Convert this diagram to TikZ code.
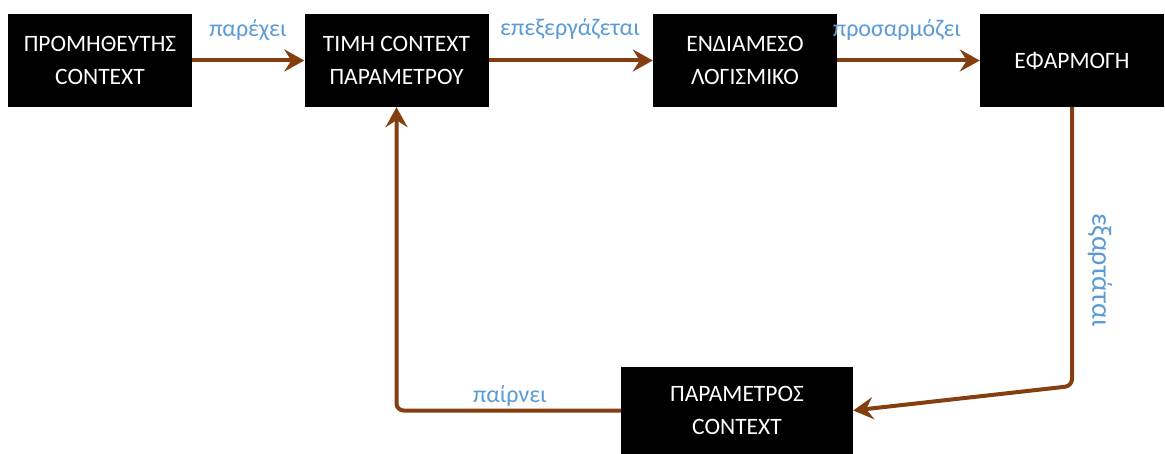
\documentclass[tikz,border=0pt]{standalone}
\usepackage{fontspec}
\setmainfont{Carlito}
\usetikzlibrary{arrows.meta}
\definecolor{arrowbrown}{RGB}{132,62,16}
\definecolor{lblblue}{RGB}{91,155,213}
\tikzset{
  box/.style={draw=none, fill=black, text=white, minimum width=184pt, minimum height=93pt,
    align=center, inner sep=0pt, font=\fontsize{23.5}{33}\selectfont},
  conn/.style={draw=arrowbrown, line width=4pt, rounded corners=7pt,
    -{Stealth[length=20pt,width=22pt,inset=7pt]}},
  lbl/.style={text=lblblue, inner sep=0pt, font=\fontsize{24}{28}\selectfont}
}
\begin{document}
\begin{tikzpicture}[x=1pt,y=-1pt]
\useasboundingbox (0,0) rectangle (1165,454);
\node[box] (b1) at (100,60.5) {ΠΡΟΜΗΘΕΥΤΗΣ\\CONTEXT};
\node[box] (b2) at (396.5,60.5) {ΤΙΜΗ CONTEXT\\ΠΑΡΑΜΕΤΡΟΥ};
\node[box] (b3) at (745,60.5) {ΕΝΔΙΑΜΕΣΟ\\ΛΟΓΙΣΜΙΚΟ};
\node[box] (b4) at (1072,60.5) {ΕΦΑΡΜΟΓΗ};
\node[box, minimum width=232pt, minimum height=87pt] (b5) at (737,410.5) {ΠΑΡΑΜΕΤΡΟΣ\\CONTEXT};
\coordinate (c1) at (1072,386);
\draw[conn] (b1.east) -- (b2.west);
\draw[conn] (b2.east) -- (b3.west);
\draw[conn] (b3.east) -- (b4.west);
\draw[conn] (b4.south) -- (c1) -- (b5.east);
\draw[conn] (b5.west) -- (b2.south |- b5.west) -- (b2.south);
\node[lbl] (l1) at (248,30) {παρέχει};
\node[lbl] (l2) at (570,29) {επεξεργάζεται};
\node[lbl] (l3) at (897,30) {προσαρμόζει};
\node[lbl] (l4) at (510,396) {παίρνει};
\node[lbl, rotate=-90, font=\fontsize{28}{32}\selectfont] (l5) at (1100,270) {εξαρτάται};
\end{tikzpicture}
\end{document}
